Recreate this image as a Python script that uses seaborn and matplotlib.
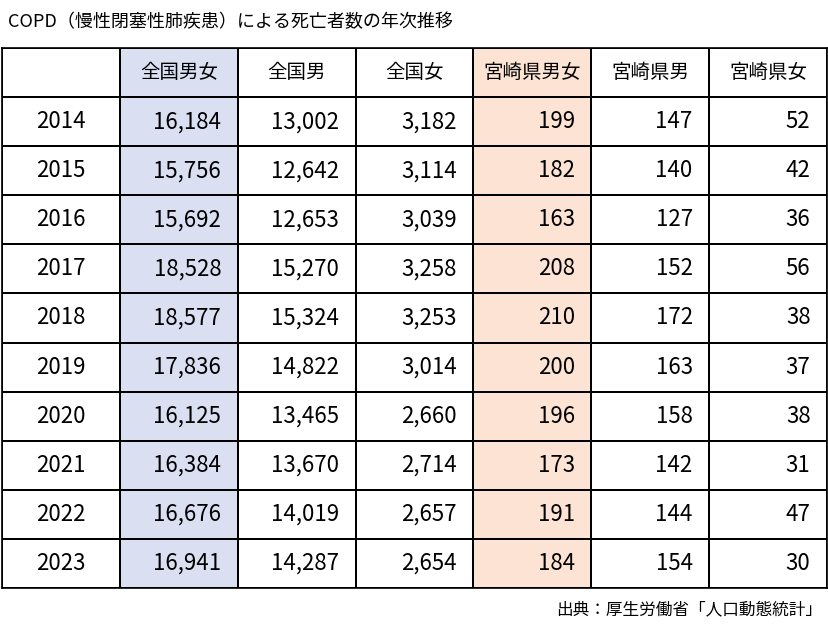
import matplotlib
matplotlib.use("Agg")
import matplotlib.pyplot as plt
import seaborn as sns
import numpy as np

plt.rcParams["font.family"] = "Noto Sans CJK JP"

columns = ["", "全国男女", "全国男", "全国女", "宮崎県男女", "宮崎県男", "宮崎県女"]
years = ["2014", "2015", "2016", "2017", "2018", "2019", "2020", "2021", "2022", "2023"]
national_total = [16184, 15756, 15692, 18528, 18577, 17836, 16125, 16384, 16676, 16941]
national_male = [13002, 12642, 12653, 15270, 15324, 14822, 13465, 13670, 14019, 14287]
national_female = [3182, 3114, 3039, 3258, 3253, 3014, 2660, 2714, 2657, 2654]
miyazaki_total = [199, 182, 163, 208, 210, 200, 196, 173, 191, 184]
miyazaki_male = [147, 140, 127, 152, 172, 163, 158, 142, 144, 154]
miyazaki_female = [52, 42, 36, 56, 38, 37, 38, 31, 47, 30]

series = [national_total, national_male, national_female, miyazaki_total, miyazaki_male, miyazaki_female]
nrows = len(years) + 1
ncols = len(columns)

color_idx = np.zeros((nrows, ncols))
color_idx[:, 1] = 1
color_idx[:, 4] = 2
cmap = matplotlib.colors.ListedColormap(["#ffffff", "#dae0f2", "#fde3d3"])

fig = plt.figure(figsize=(8.29, 6.38), dpi=100)
ax = fig.add_axes([2/829, 50/638, 825/829, 540/638])
sns.heatmap(color_idx, cmap=cmap, vmin=0, vmax=2, cbar=False, linewidths=1.2,
            linecolor="black", ax=ax, xticklabels=False, yticklabels=False)
for s in ax.spines.values():
    s.set_visible(True)
    s.set_linewidth(1.2)

fs = 16
for j, c in enumerate(columns):
    ax.text(j + 0.5, 0.5, c, ha="center", va="center", fontsize=14)
for i, y in enumerate(years):
    ax.text(0.5, i + 1.5, y, ha="center", va="center", fontsize=fs)
    for j, ser in enumerate(series):
        ax.text(j + 1 + 0.86, i + 1.5, f"{ser[i]:,}", ha="right", va="center", fontsize=fs)

fig.text(8/829, 1 - 22/638, "COPD（慢性閉塞性肺疾患）による死亡者数の年次推移", ha="left", va="center", fontsize=13)
fig.text(822/829, 1 - 610/638, "出典：厚生労働省「人口動態統計」", ha="right", va="center", fontsize=12)
fig.savefig("out.png", dpi=100)
